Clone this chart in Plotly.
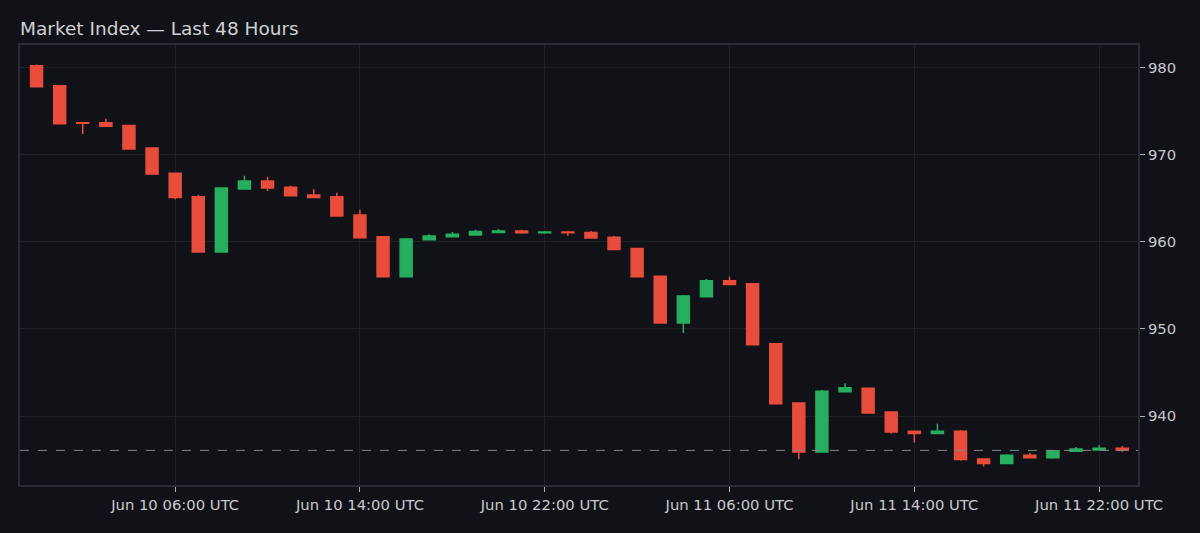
import pandas as pd
import plotly.graph_objects as go

# hourly candles, Jun 10 00:00 -> Jun 11 23:00 UTC
times = pd.date_range("2024-06-10 00:00", periods=48, freq="h")

opens = [980.25, 977.95, 973.70, 973.70, 973.40, 970.80, 967.90, 965.20,
         958.85, 966.10, 967.00, 966.30, 965.40, 965.20, 963.10, 960.60,
         956.00, 960.25, 960.60, 960.80, 961.10, 961.25, 961.05, 961.15,
         961.10, 960.55, 959.25, 956.05, 950.70, 953.70, 955.55, 955.20,
         948.30, 941.50, 935.85, 942.80, 943.20, 940.45, 938.25, 938.00,
         938.25, 935.05, 934.55, 935.50, 935.20, 935.95, 936.10, 936.30]
highs = [980.40, 978.00, 973.75, 974.15, 973.45, 970.85, 967.95, 965.40,
         966.30, 967.60, 967.50, 966.45, 966.10, 965.65, 963.70, 960.70,
         960.45, 960.90, 961.15, 961.40, 961.50, 961.40, 961.25, 961.30,
         961.25, 960.70, 959.30, 956.10, 953.90, 955.75, 956.00, 955.25,
         948.35, 941.55, 943.00, 943.75, 943.25, 940.50, 938.30, 939.15,
         938.40, 935.10, 935.60, 935.75, 936.10, 936.45, 936.65, 936.55]
lows = [977.85, 973.55, 972.40, 973.30, 970.65, 967.80, 964.90, 958.85,
        958.80, 966.05, 965.85, 965.30, 965.05, 963.00, 960.45, 956.00,
        955.95, 960.20, 960.55, 960.75, 961.05, 960.95, 960.95, 960.70,
        960.45, 959.10, 955.95, 950.70, 949.55, 953.65, 955.05, 948.20,
        941.40, 935.05, 935.80, 942.75, 940.30, 937.95, 936.95, 937.95,
        934.85, 934.20, 934.50, 935.20, 935.10, 935.90, 936.05, 935.90]
closes = [977.85, 973.60, 973.65, 973.30, 970.70, 967.80, 965.10, 958.85,
          966.20, 967.00, 966.20, 965.30, 965.10, 963.00, 960.50, 956.00,
          960.35, 960.70, 960.90, 961.20, 961.25, 961.05, 961.15, 961.05,
          960.45, 959.15, 956.00, 950.70, 953.80, 955.55, 955.10, 948.20,
          941.40, 935.85, 942.85, 943.25, 940.35, 938.15, 938.00, 938.25,
          935.00, 934.55, 935.50, 935.20, 936.00, 936.20, 936.30, 936.05]

up_color = "#27ae60"
down_color = "#e74c3c"
bg = "#111217"
font_color = "#c8c9cc"

fig = go.Figure()
fig.add_trace(go.Candlestick(
    x=times, open=opens, high=highs, low=lows, close=closes,
    increasing=dict(line=dict(color=up_color, width=1.5), fillcolor=up_color),
    decreasing=dict(line=dict(color=down_color, width=1.5), fillcolor=down_color),
    name="Index",
    showlegend=False,
))

# last price line
fig.add_hline(y=closes[-1], line=dict(color="#85878c", width=1, dash="dash"))

fig.update_layout(
    width=1200, height=533,
    paper_bgcolor=bg, plot_bgcolor=bg,
    font=dict(family="DejaVu Sans", size=14.8, color=font_color),
    title=dict(text="Market Index — Last 48 Hours", x=0.0167, xanchor="left",
               y=0.947, yanchor="middle", font=dict(size=18.5, color="#d0d1d4")),
    margin=dict(l=20, r=62, t=45, b=48),
    boxgap=0.26,
    xaxis=dict(
        type="date",
        range=["2024-06-09 23:17", "2024-06-11 23:41"],
        tick0="2024-06-10 06:00", dtick=8 * 3600 * 1000,
        tickformat="%b %d %H:%M UTC",
        ticks="outside", ticklen=5, tickcolor="#b0b2b6",
        showgrid=True, gridcolor="#1f2126",
        showline=True, linecolor="#2a2c33", linewidth=2, mirror=True,
        rangeslider=dict(visible=False),
        zeroline=False,
    ),
    yaxis=dict(
        side="right",
        range=[932.07, 982.64],
        dtick=10,
        ticks="outside", ticklen=5, tickcolor="#b0b2b6",
        showgrid=True, gridcolor="#1f2126",
        showline=True, linecolor="#2a2c33", linewidth=2, mirror=True,
        zeroline=False,
    ),
)

# drop the page margin so the figure fills the window
fig.write_html(
    "out.html",
    config={"displayModeBar": False},
    post_script="document.body.style.margin='0';"
                "document.body.style.background='#111217';"
                "document.documentElement.style.overflow='hidden';",
)
